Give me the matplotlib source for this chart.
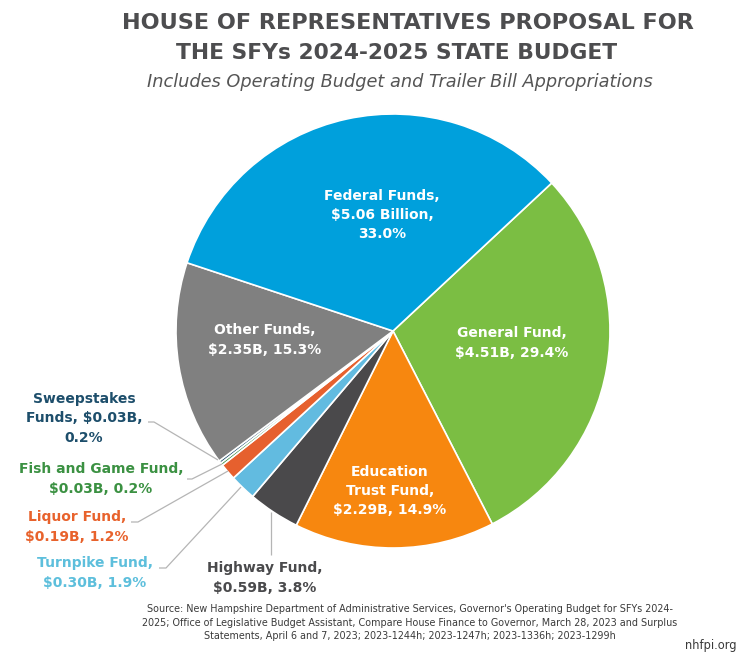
import matplotlib
matplotlib.use("Agg")
import matplotlib.pyplot as plt

# ---- data ----
categories = ["General Fund", "Education Trust Fund", "Highway Fund", "Turnpike Fund",
              "Liquor Fund", "Fish and Game Fund", "Sweepstakes Funds", "Other Funds",
              "Federal Funds"]
values_billion = [4.51, 2.29, 0.59, 0.30, 0.19, 0.03, 0.03, 2.35, 5.06]
shares_pct = [29.4, 14.9, 3.8, 1.9, 1.2, 0.2, 0.2, 15.3, 33.0]
slice_colors = ["#7BBE43", "#F7870F", "#4A494B", "#62BBE0", "#E6602E",
                "#3B9142", "#1B4B69", "#808080", "#00A0DC"]

title_lines = ["HOUSE OF REPRESENTATIVES PROPOSAL FOR", "THE SFYs 2024-2025 STATE BUDGET"]
subtitle = "Includes Operating Budget and Trailer Bill Appropriations"
source_lines = [
    "Source: New Hampshire Department of Administrative Services, Governor's Operating Budget for SFYs 2024-",
    "2025; Office of Legislative Budget Assistant, Compare House Finance to Governor, March 28, 2023 and Surplus",
    "Statements, April 6 and 7, 2023; 2023-1244h; 2023-1247h; 2023-1336h; 2023-1299h",
]

W, H = 752, 663
fig = plt.figure(figsize=(W / 100, H / 100), dpi=100)
ax = fig.add_axes([0, 0, 1, 1])

def Y(y):
    return H - y

FONT = "DejaVu Sans"

ax.pie(values_billion, colors=slice_colors, startangle=43, counterclock=False,
       center=(393, Y(331)), radius=217,
       wedgeprops=dict(edgecolor="white", linewidth=1.2))
ax.set_xlim(0, W)
ax.set_ylim(0, H)
ax.set_aspect("equal")
ax.axis("off")

# title
ax.text(408, Y(23), title_lines[0], ha="center", va="center", fontsize=16.1,
        fontweight="bold", color="#4D4D4F", family=FONT)
ax.text(397, Y(53), title_lines[1], ha="center", va="center", fontsize=15.7,
        fontweight="bold", color="#4D4D4F", family=FONT)
ax.text(400, Y(82), subtitle, ha="center", va="center", fontsize=12.8,
        style="italic", color="#555555", family=FONT)

def fmt(i):
    return f"${values_billion[i]:.2f}B, {shares_pct[i]:.1f}%"

lab_kw = dict(ha="center", va="center", fontsize=10, fontweight="bold",
              family=FONT, linespacing=1.5)

# inside labels
ax.text(382, Y(215), f"Federal Funds,\n${values_billion[8]:.2f} Billion,\n{shares_pct[8]:.1f}%",
        color="white", **lab_kw)
ax.text(512, Y(343), f"General Fund,\n{fmt(0)}", color="white", **lab_kw)
ax.text(265, Y(340), f"Other Funds,\n{fmt(7)}", color="white", **lab_kw)
ax.text(390, Y(491), f"Education\nTrust Fund,\n{fmt(1)}", color="white", **lab_kw)

# outside labels
ax.text(265, Y(578), f"Highway Fund,\n{fmt(2)}", color="#4A4A4C", **lab_kw)
ax.text(84, Y(418), f"Sweepstakes\nFunds, ${values_billion[6]:.2f}B,\n{shares_pct[6]:.1f}%",
        color="#1D4E6B", **lab_kw)
ax.text(101, Y(479), f"Fish and Game Fund,\n${values_billion[5]:.2f}B, {shares_pct[5]:.1f}%",
        color="#3B9142", **lab_kw)
ax.text(77, Y(527), f"Liquor Fund,\n{fmt(4)}", color="#E8622C", **lab_kw)
ax.text(95, Y(573), f"Turnpike Fund,\n{fmt(3)}", color="#5DBFDC", **lab_kw)

# leader lines
line_kw = dict(color="#B5B5B5", linewidth=0.9, solid_capstyle="butt")
leaders = [
    [(148, 422), (154, 422), (218, 460)],
    [(187, 479), (192, 479), (222, 464)],
    [(131, 522), (138, 522), (228, 471)],
    [(159, 568), (166, 568), (241, 487)],
    [(271, 512), (271, 555)],
]
for pts in leaders:
    ax.plot([p[0] for p in pts], [Y(p[1]) for p in pts], **line_kw)

# source
for i, s in enumerate(source_lines):
    ax.text(410, Y(609 + 13.5 * i), s, ha="center", va="center", fontsize=6.9,
            color="#3A3A3A", family=FONT)
ax.text(736, Y(646), "nhfpi.org", ha="right", va="center", fontsize=8.3,
        color="#3A3A3A", family=FONT)

fig.savefig("out.png", dpi=100)
